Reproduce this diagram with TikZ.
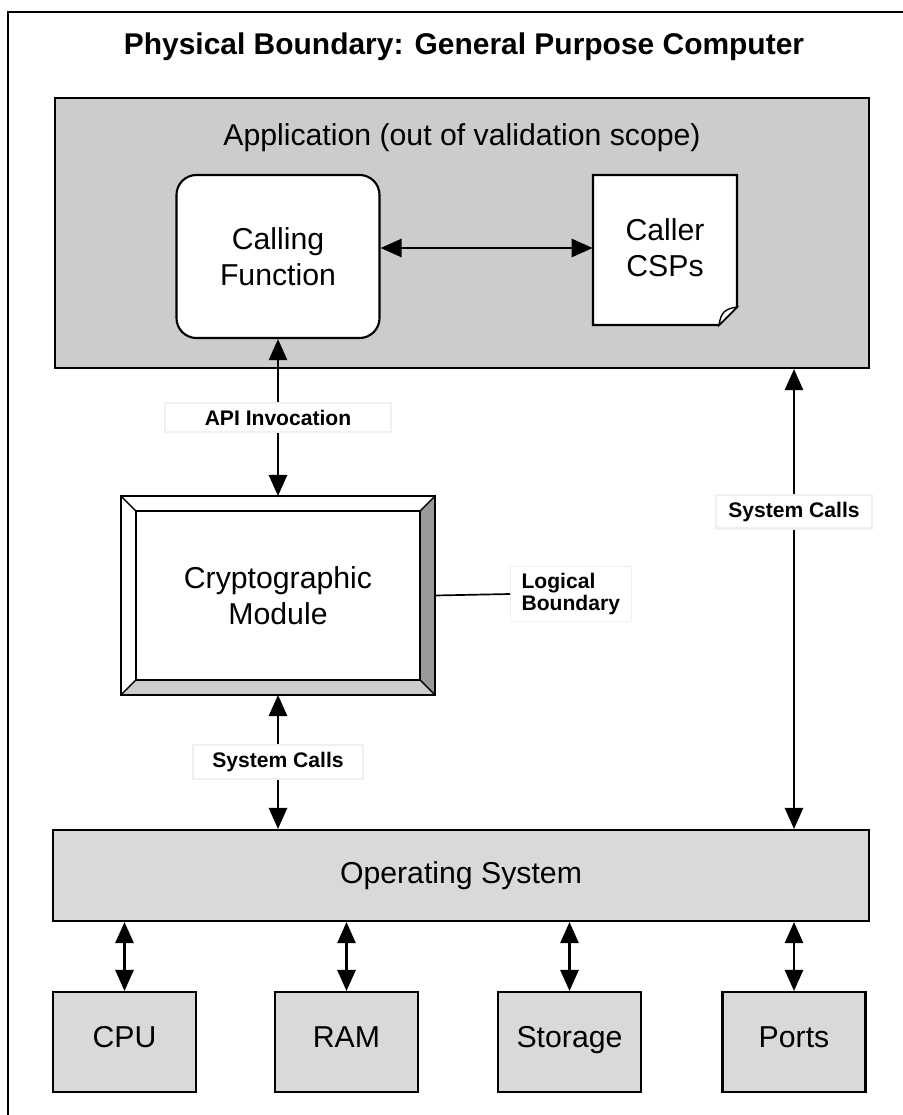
\documentclass[tikz,border=0pt]{standalone}
\usepackage{fontspec}
\setmainfont{Liberation Sans}
\usetikzlibrary{positioning,arrows.meta}

\begin{document}
\begin{tikzpicture}[x=0.025cm, y=-0.025cm,
    txt/.style={font=\fontsize{21.5}{25.5}\selectfont, align=center},
    blk/.style={txt, draw, line width=1.5pt, fill=black!15},
    hw/.style={blk, minimum width=3.575cm, minimum height=2.5cm, text height=0.72em, text depth=0pt},
    lbl/.style={fill=white, draw=black!6, font=\bfseries\fontsize{15}{16.5}\selectfont, inner xsep=6pt, inner ysep=5pt},
    dbl/.style={line width=1.5pt, {Triangle[length=15pt,width=13pt]}-{Triangle[length=15pt,width=13pt]}}]
      \useasboundingbox (0, 0) rectangle (902, 1115);
      \draw[line width=1.5pt] (8, 12) rectangle (930, 1140);
      \node (title) at (464, 47) [font=\bfseries\fontsize{21.3}{24}\selectfont] {Physical Boundary: General Purpose Computer};
      % application part
      \node (app) at (462, 233) [blk, fill=black!20, minimum width=20.35cm, minimum height=6.75cm] {};
      \node (apptxt) at (462, 138) [txt] {Application (out of validation scope)};
      \node (calling) at (278, 256.5) [txt, draw, fill=white, line width=1.5pt, rounded corners=0.5cm,
            minimum width=5.075cm, minimum height=4.075cm] {Calling\\Function};
      \draw[line width=1.5pt, fill=white] (593, 175) -- (737, 175) -- (737, 307) -- (719, 325) -- (593, 325) -- cycle;
      \draw[line width=1pt, fill=white] (719, 325) .. controls (721, 312) and (725, 309) .. (737, 307) -- cycle;
      \node (csp) at (665, 248) [txt, minimum width=3.6cm, minimum height=3.75cm] {Caller\\CSPs};
      % module with bevel
      \node (crypto) at (278, 595.5) [txt, draw, fill=white, line width=1pt, outer sep=0pt,
            minimum width=7.85cm, minimum height=4.975cm] {Cryptographic\\Module};
      \fill[black!40] (crypto.north east) -- (crypto.south east) -- ([xshift=-0.375cm, yshift=0.375cm]crypto.south east)
            -- ([xshift=-0.375cm, yshift=-0.375cm]crypto.north east) -- cycle;
      \fill[black!20] (crypto.south west) -- (crypto.south east) -- ([xshift=-0.375cm, yshift=0.375cm]crypto.south east)
            -- ([xshift=0.375cm, yshift=0.375cm]crypto.south west) -- cycle;
      \draw[line width=1pt] ([xshift=0.375cm, yshift=-0.375cm]crypto.north west) rectangle ([xshift=-0.375cm, yshift=0.375cm]crypto.south east)
            (crypto.north west) rectangle (crypto.south east);
      \foreach \a/\sx/\sy in {north west/1/-1, north east/-1/-1, south east/-1/1, south west/1/1}
            \draw[line width=1pt] (crypto.\a) -- ([xshift=\sx*0.375cm, yshift=\sy*0.375cm]crypto.\a);
      \node (logic) at (510, 594) [lbl, anchor=west, align=left, inner xsep=8pt, font=\bfseries\fontsize{15}{15.5}\selectfont] {Logical\\Boundary};
      \draw[line width=1.2pt] (crypto.east) -- (logic.west);
      % system and hardware
      \node (os) at (461, 875.5) [blk, minimum width=20.4cm, minimum height=2.275cm] {Operating System};
      \node (cpu) at (124.5, 1042) [hw] {CPU};
      \node (ram) at (346.5, 1042) [hw] {RAM};
      \node (storage) at (569.5, 1042) [hw] {Storage};
      \node (ports) at (794, 1042) [hw] {Ports};
      % connections
      \draw[dbl] (csp.west -| calling.east) -- (csp.west);
      \draw[dbl] (calling.south) -- (crypto.north) node (api) [lbl, midway, inner xsep=28pt] {API Invocation};
      \draw[dbl] (crypto.south) -- (os.north -| crypto.south) node (sysl) [lbl, midway, inner xsep=14pt] {System Calls};
      \draw[dbl] (app.south -| ports) -- (os.north -| ports) node (sysr) [lbl, pos=.31, inner xsep=9pt] {System Calls};
      \foreach \b in {cpu, ram, storage, ports}
            \draw[dbl] (os.south -| \b.north) -- (\b.north);
\end{tikzpicture}
\end{document}
